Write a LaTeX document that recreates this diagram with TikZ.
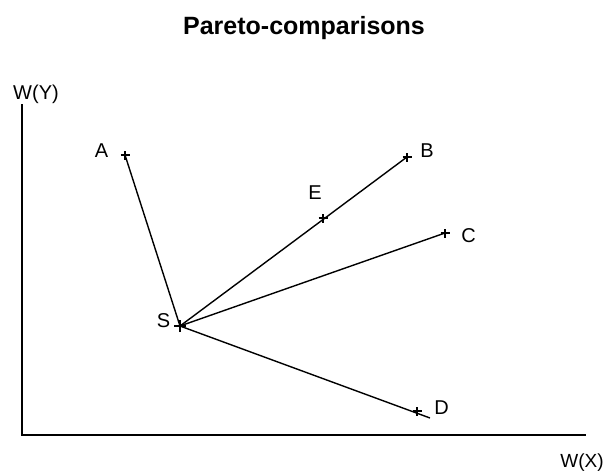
\documentclass[tikz,border=0pt]{standalone}
\usepackage{fontspec}
\setmainfont{Liberation Sans}
\begin{document}
\begin{tikzpicture}[x=1pt,y=-1pt,
  lbl/.style={font=\fontsize{20}{22}\selectfont,inner sep=0pt},
  ln/.style={line width=1.4pt},
  pm/.style={line width=1.8pt}]
\useasboundingbox (0,0) rectangle (608,474);
\node[font=\fontsize{25}{28}\selectfont\bfseries,inner sep=0pt,anchor=base] (title) at (304,34) {Pareto-comparisons};
% axes
\coordinate (ytop) at (22,104);
\coordinate (orig) at (22,435);
\coordinate (xend) at (586,435);
\draw[line width=1.4pt] (ytop) -- (orig) -- (xend);
\node[lbl,anchor=base] (wy) at (36,99) {W(Y)};
\node[lbl,anchor=base,font=\fontsize{19}{21}\selectfont] (wx) at (582,467) {W(X)};
% points
\coordinate (S) at (180,326);
\coordinate (A) at (125,155);
\coordinate (B) at (407,157);
\coordinate (E) at (323,218);
\coordinate (C) at (445,233);
\coordinate (D) at (417,411);
\coordinate (Dend) at (430,418);
\draw[ln] (S) -- (A);
\draw[ln] (S) -- (B);
\draw[ln] (S) -- (C);
\draw[ln] (S) -- (Dend);
% plus marks
\foreach \p in {A,B,E,C,D}{
  \draw[pm] ([xshift=-4.5]\p) -- ([xshift=4.5]\p);
  \draw[pm] ([yshift=-4.5]\p) -- ([yshift=4.5]\p);
}
\draw[line width=2.8pt] ([xshift=-6]S) -- ([xshift=6]S);
\draw[line width=2.8pt] ([yshift=-6]S) -- ([yshift=6]S);
% labels
\node[lbl] (lS) at (163.5,321) {S};
\node[lbl] (lA) at (101.5,150.5) {A};
\node[lbl] (lB) at (427,150.5) {B};
\node[lbl] (lE) at (315,193) {E};
\node[lbl] (lC) at (468.5,236) {C};
\node[lbl] (lD) at (441.5,407.5) {D};
\end{tikzpicture}
\end{document}
